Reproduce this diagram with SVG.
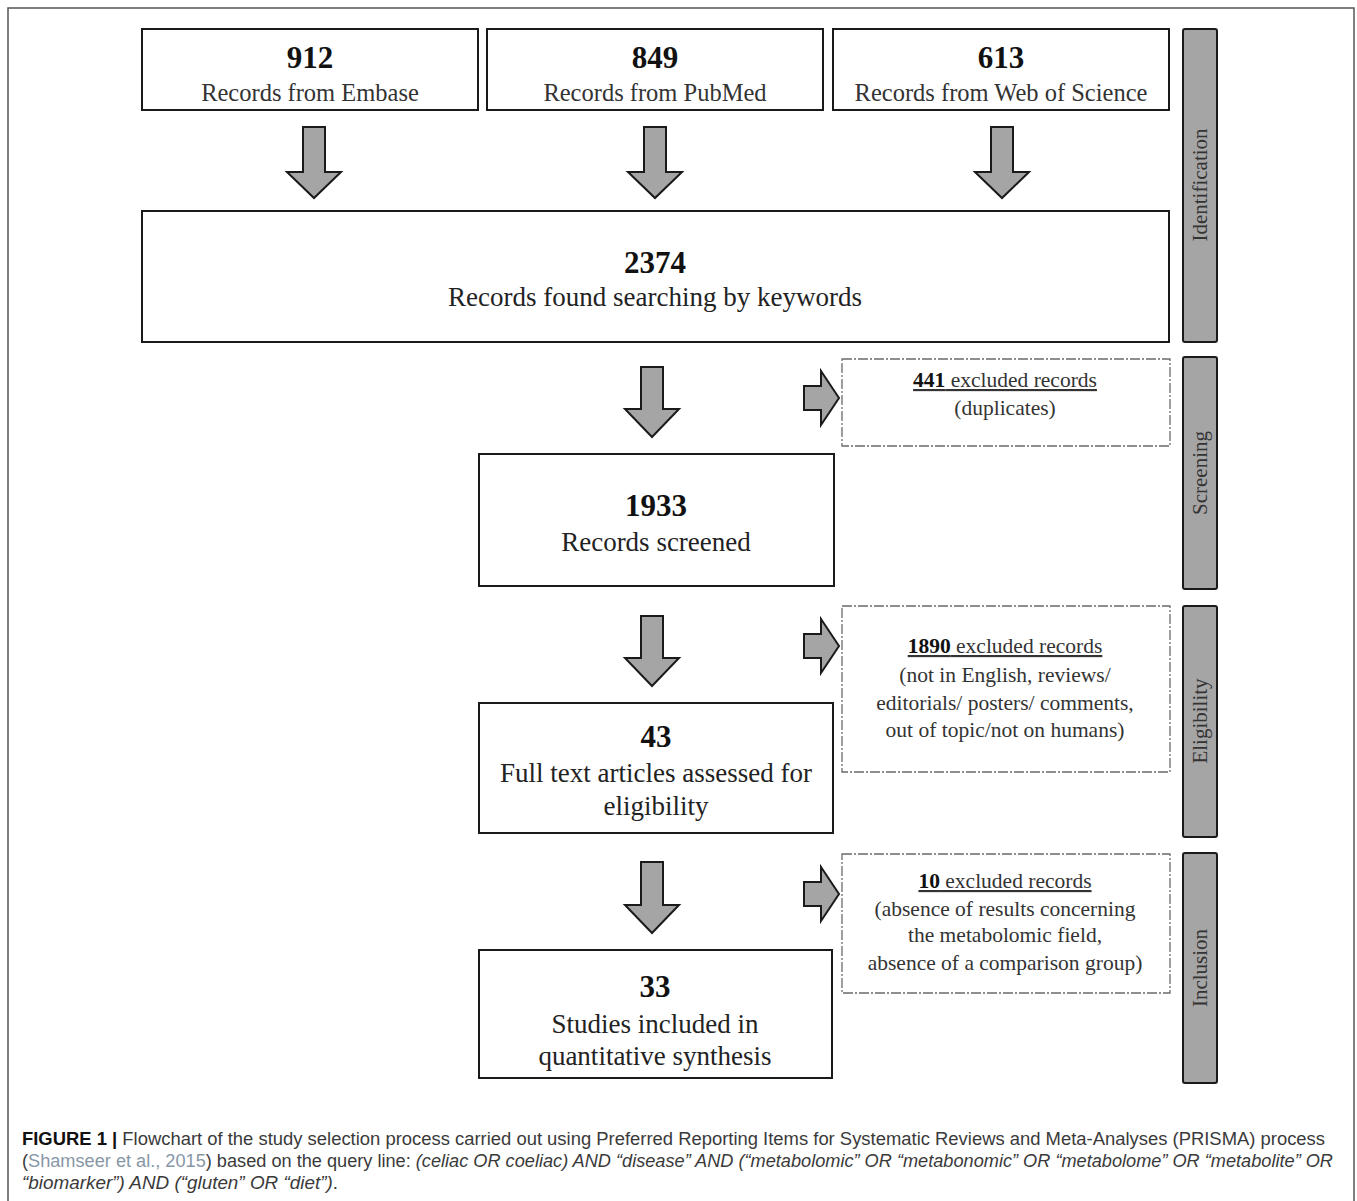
<svg xmlns="http://www.w3.org/2000/svg" width="1357" height="1201" viewBox="0 0 1357 1201">
<style>
.box{fill:#fff;stroke:#1a1a1a;stroke-width:2}
.dbox{fill:#fff;stroke:#6a6a6a;stroke-width:1.3;stroke-dasharray:10 2 2 2}
.bar{fill:#a5a5a5;stroke:#1a1a1a;stroke-width:2}
.arr{fill:#a5a5a5;stroke:#1a1a1a;stroke-width:2;stroke-linejoin:miter}
.num{font-family:"Liberation Serif",serif;font-weight:bold;font-size:31px;fill:#111;text-anchor:middle}
.lbl{font-family:"Liberation Serif",serif;font-size:27px;fill:#222;text-anchor:middle}
.top{font-size:24.5px;fill:#333}
.ex{font-family:"Liberation Serif",serif;font-size:21.5px;fill:#333;text-anchor:middle}
.side{font-family:"Liberation Serif",serif;font-size:21px;fill:#333;text-anchor:middle}
.cap{font-family:"Liberation Sans",Arial,sans-serif;font-size:17.5px;fill:#3a3a3a}
</style>
<rect x="8" y="8" width="1346" height="1210" fill="#fff" stroke="#555" stroke-width="1.5"/>

<g id="connectors">
<path class="arr" d="M303,127H325V172H341L314,198L287,172H303Z"/>
<path class="arr" d="M644,127H666V172H682L655,198L628,172H644Z"/>
<path class="arr" d="M991,127H1013V172H1029L1002,198L975,172H991Z"/>
<path class="arr" d="M641,367H663V409H679L652,437L625,409H641Z"/>
<path class="arr" d="M641,616H663V658H679L652,686L625,658H641Z"/>
<path class="arr" d="M641,862H663V905H679L652,933L625,905H641Z"/>
<path class="arr" d="M804,386H821V371L839,398L821,425V410H804Z"/>
<path class="arr" d="M804,634H821V619L839,646L821,673V658H804Z"/>
<path class="arr" d="M804,882H821V867L839,894L821,921V906H804Z"/>
</g>

<g id="embase">
<rect class="box" x="142" y="29" width="336" height="81"/>
<text class="num" x="310" y="68">912</text>
<text class="lbl top" x="310" y="101">Records from Embase</text>
</g>
<g id="pubmed">
<rect class="box" x="487" y="29" width="336" height="81"/>
<text class="num" x="655" y="68">849</text>
<text class="lbl top" x="655" y="101">Records from PubMed</text>
</g>
<g id="wos">
<rect class="box" x="833" y="29" width="336" height="81"/>
<text class="num" x="1001" y="68">613</text>
<text class="lbl top" x="1001" y="101">Records from Web of Science</text>
</g>
<g id="found">
<rect class="box" x="142" y="211" width="1027" height="131"/>
<text class="num" x="655" y="273">2374</text>
<text class="lbl" x="655" y="306">Records found searching by keywords</text>
</g>
<g id="screened">
<rect class="box" x="479" y="454" width="355" height="132"/>
<text class="num" x="656" y="516">1933</text>
<text class="lbl" x="656" y="551">Records screened</text>
</g>
<g id="fulltext">
<rect class="box" x="479" y="703" width="354" height="130"/>
<text class="num" x="656" y="747">43</text>
<text class="lbl" x="656" y="782">Full text articles assessed for</text>
<text class="lbl" x="656" y="815">eligibility</text>
</g>
<g id="included">
<rect class="box" x="479" y="950" width="353" height="128"/>
<text class="num" x="655" y="997">33</text>
<text class="lbl" x="655" y="1033">Studies included in</text>
<text class="lbl" x="655" y="1065">quantitative synthesis</text>
</g>

<g id="excl441">
<rect class="dbox" x="842" y="359" width="328" height="87"/>
<text class="ex" x="1005" y="387" text-decoration="underline"><tspan font-weight="bold" fill="#111">441</tspan> excluded records</text>
<text class="ex" x="1005" y="415">(duplicates)</text>
</g>
<g id="excl1890">
<rect class="dbox" x="842" y="606" width="328" height="166"/>
<text class="ex" x="1005" y="653" text-decoration="underline"><tspan font-weight="bold" fill="#111">1890</tspan> excluded records</text>
<text class="ex" x="1005" y="682">(not in English, reviews/</text>
<text class="ex" x="1005" y="710">editorials/ posters/ comments,</text>
<text class="ex" x="1005" y="737">out of topic/not on humans)</text>
</g>
<g id="excl10">
<rect class="dbox" x="842" y="854" width="328" height="139"/>
<text class="ex" x="1005" y="888" text-decoration="underline"><tspan font-weight="bold" fill="#111">10</tspan> excluded records</text>
<text class="ex" x="1005" y="916">(absence of results concerning</text>
<text class="ex" x="1005" y="942">the metabolomic field,</text>
<text class="ex" x="1005" y="970">absence of a comparison group)</text>
</g>

<g id="identification">
<rect class="bar" x="1183" y="29" width="34" height="313" rx="2"/>
<text class="side" transform="translate(1207,185) rotate(-90)">Identification</text>
</g>
<g id="screening">
<rect class="bar" x="1183" y="357" width="34" height="232" rx="2"/>
<text class="side" transform="translate(1207,473) rotate(-90)">Screening</text>
</g>
<g id="eligibility">
<rect class="bar" x="1183" y="606" width="34" height="231" rx="2"/>
<text class="side" transform="translate(1207,721) rotate(-90)">Eligibility</text>
</g>
<g id="inclusion">
<rect class="bar" x="1183" y="853" width="34" height="230" rx="2"/>
<text class="side" transform="translate(1207,968) rotate(-90)">Inclusion</text>
</g>

<g id="caption">
<text class="cap" x="22" y="1145" textLength="1303" lengthAdjust="spacingAndGlyphs"><tspan font-weight="bold" fill="#111">FIGURE 1 |</tspan> Flowchart of the study selection process carried out using Preferred Reporting Items for Systematic Reviews and Meta-Analyses (PRISMA) process</text>
<text class="cap" x="22" y="1167" textLength="1311" lengthAdjust="spacingAndGlyphs">(<tspan fill="#8797a6">Shamseer et al., 2015</tspan>) based on the query line: <tspan font-style="italic">(celiac OR coeliac) AND “disease” AND (“metabolomic” OR “metabonomic” OR “metabolome” OR “metabolite” OR</tspan></text>
<text class="cap" x="22" y="1189" textLength="316" lengthAdjust="spacingAndGlyphs"><tspan font-style="italic">“biomarker”) AND (“gluten” OR “diet”)</tspan>.</text>
</g>
</svg>
